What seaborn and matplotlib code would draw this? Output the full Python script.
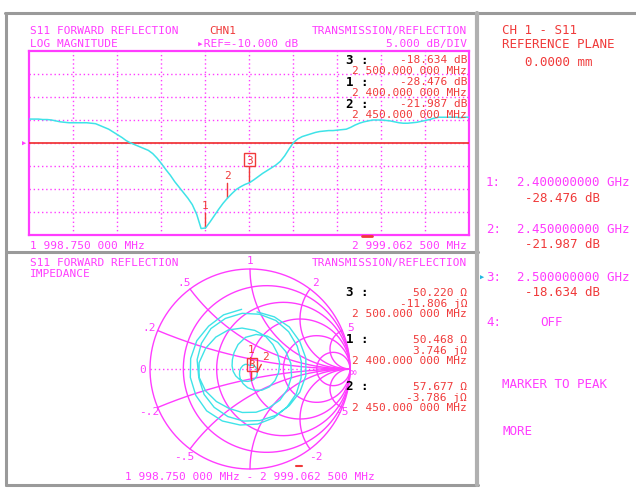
import numpy as np
import pandas as pd
import matplotlib
matplotlib.use("Agg")
import matplotlib.pyplot as plt
import seaborn as sns
from matplotlib.lines import Line2D

# ---------------- data ----------------
freq_mhz = [1998.75, 2010, 2020, 2030, 2040, 2050, 2060, 2070, 2080, 2090,
            2100, 2110, 2120, 2130, 2140, 2150, 2160, 2170, 2180, 2190,
            2200, 2210, 2220, 2230, 2240, 2250, 2260, 2270, 2280, 2290,
            2300, 2310, 2320, 2330, 2340, 2350, 2360, 2370, 2380, 2390,
            2400, 2410, 2420, 2430, 2440, 2450, 2460, 2470, 2480, 2490,
            2500, 2510, 2520, 2530, 2540, 2550, 2560, 2570, 2580, 2590,
            2600, 2610, 2620, 2630, 2640, 2650, 2660, 2670, 2680, 2690,
            2700, 2710, 2720, 2730, 2740, 2750, 2760, 2770, 2780, 2790,
            2800, 2810, 2820, 2830, 2840, 2850, 2860, 2870, 2880, 2890,
            2900, 2910, 2920, 2930, 2940, 2950, 2960, 2970, 2980, 2990,
            2999.0625]
s11_db = [-4.8, -4.8, -4.8, -4.9, -4.9, -5.0, -5.2, -5.4, -5.5, -5.6,
          -5.6, -5.6, -5.6, -5.6, -5.7, -5.8, -6.2, -6.6, -7.0, -7.6,
          -8.2, -8.8, -9.5, -10.0, -10.4, -10.8, -11.2, -11.6, -12.3, -13.3,
          -14.5, -15.8, -17.0, -18.4, -19.6, -20.8, -22.0, -23.4, -25.5, -28.6,
          -28.476, -27.2, -25.8, -24.4, -23.1, -21.987, -21.0, -20.1, -19.5, -19.0,
          -18.634, -18.0, -17.3, -16.6, -16.0, -15.4, -14.8, -14.0, -12.8, -11.3,
          -9.9, -9.1, -8.6, -8.3, -8.0, -7.7, -7.5, -7.4, -7.3, -7.3,
          -7.2, -7.1, -7.0, -6.6, -6.1, -5.7, -5.4, -5.2, -5.0, -5.0,
          -5.0, -5.1, -5.2, -5.4, -5.6, -5.7, -5.7, -5.6, -5.5, -5.3,
          -5.1, -4.9, -4.6, -4.4, -4.4, -4.4, -4.4, -4.4, -4.5, -4.4,
          -4.4]
s11_phase_deg = [803, 785, 767, 749, 731, 713, 695, 677, 659, 641,
                 623, 605, 587, 569, 551, 533, 515, 497, 479, 461,
                 443, 425, 407, 389, 371, 353, 335, 317, 299, 281,
                 263, 245, 227, 209, 191, 173, 155, 137, 119, 101,
                 83, 61, 40, 19, -3, -24, -36, -47, -59, -70,
                 -82, -100, -118, -136, -154, -172, -190, -208, -226, -244,
                 -262, -280, -298, -316, -334, -352, -370, -388, -406, -424,
                 -442, -460, -478, -496, -514, -532, -550, -568, -586, -604,
                 -622, -640, -658, -676, -694, -712, -730, -748, -766, -784,
                 -802, -820, -838, -856, -874, -892, -910, -928, -946, -964,
                 -982]

marker_ids = ["1", "2", "3"]
marker_freq = [2400, 2450, 2500]
marker_db = [-28.476, -21.987, -18.634]
marker_r_ohm = [50.468, 57.677, 50.220]
marker_x_ohm = [3.746, -3.786, -11.806]
marker_freq_text = ["2 400.000 000 MHz", "2 450.000 000 MHz", "2 500.000 000 MHz"]

start_mhz, stop_mhz = 1998.75, 2999.0625
ref_db, db_per_div = -10.0, 5.0

smith_r = [0, 0.2, 0.5, 1, 2, 5]
smith_x = [0.2, 0.5, 1, 2, 5, -0.2, -0.5, -1, -2, -5]
smith_x_labels = [".2", ".5", "1", "2", "5", "-.2", "-.5", "", "-2", "-5"]

# ---------------- style ----------------
W, H = 636, 489
MAG = "#ff3cff"
CYAN = "#3fe3e8"
RED = "#f03a3a"
GRAY = "#9a9a9a"
FONT = "DejaVu Sans Mono"

sns.set_theme(style="white")
plt.rcParams["font.family"] = [FONT, "DejaVu Sans"]

fig = plt.figure(figsize=(W / 100, H / 100), dpi=100)
fig.patch.set_facecolor("white")


def fx(x):
    return x / W


def fy(y):
    return 1 - y / H


def T(x, y, s, color, ha="left", size=8, weight="normal"):
    fig.text(fx(x), fy(y), s, color=color, ha=ha, va="center",
             fontsize=size, family=FONT, weight=weight)


def L(xs, ys, color=GRAY, lw=2.2):
    fig.add_artist(Line2D([fx(v) for v in xs], [fy(v) for v in ys],
                          color=color, lw=lw, transform=fig.transFigure))


# frame
L([5, 636], [14, 14])
L([6, 6], [14, 486])
L([6, 478], [486, 486])
L([6, 478], [253, 253])
L([477, 477], [14, 486], color="#b0b0b0", lw=3)

# ---------------- top: log magnitude ----------------
ax1 = fig.add_axes([fx(29), fy(236), (469 - 29) / W, (236 - 52) / H])
df = pd.DataFrame({"freq": freq_mhz, "db": s11_db})
top_db = ref_db + 4 * db_per_div
bot_db = ref_db - 4 * db_per_div
ax1.set_xlim(start_mhz, stop_mhz)
ax1.set_ylim(bot_db, top_db)
span = stop_mhz - start_mhz
ax1.set_xticks([start_mhz + span * k / 10 for k in range(1, 10)])
ax1.set_yticks([bot_db + db_per_div * k for k in range(1, 8)])
ax1.grid(True, color=MAG, linestyle=(0, (1, 2)), lw=1.0)
ax1.tick_params(left=False, bottom=False, labelleft=False, labelbottom=False)
for sp in ax1.spines.values():
    sp.set_color(MAG)
    sp.set_linewidth(1.6)
ax1.axhline(ref_db, color=RED, lw=1.3, zorder=3)
sns.lineplot(data=df, x="freq", y="db", ax=ax1, color=CYAN, lw=1.1,
             estimator=None, sort=False, zorder=4)
ax1.set_xlabel("")
ax1.set_ylabel("")
for mid, f, d in zip(marker_ids, marker_freq, marker_db):
    box = dict(boxstyle="square,pad=0.15", fc="none", ec=RED, lw=1) if mid == "3" else None
    ax1.annotate(mid, xy=(f, d), xytext=(0, 13), textcoords="offset points",
                 ha="center", va="bottom", color=RED, fontsize=8, family=FONT,
                 bbox=box,
                 arrowprops=dict(arrowstyle="-", color=RED, lw=1,
                                 shrinkA=0, shrinkB=0))

# top texts
T(30, 31, "S11 FORWARD REFLECTION", MAG)
T(30, 44, "LOG MAGNITUDE", MAG)
T(209, 31, "CHN1", RED)
T(197, 44, "\u25b8REF=-10.000 dB", MAG)
T(467, 31, "TRANSMISSION/REFLECTION", MAG, ha="right")
T(467, 44, "5.000 dB/DIV", MAG, ha="right")
order = [2, 0, 1]
for row, k in enumerate(order):
    y0 = 60 + row * 22
    T(346, y0, marker_ids[k] + " :", "black", size=9, weight="bold")
    T(467, y0, f"{marker_db[k]:.3f} dB", RED, ha="right")
    T(467, y0 + 11, marker_freq_text[k], RED, ha="right")
T(30, 246, "1 998.750 000 MHz", MAG)
T(467, 246, "2 999.062 500 MHz", MAG, ha="right")
T(24, 144, "\u25b6", MAG, ha="center", size=5)
L([362, 372], [237, 237], color=RED, lw=2)

# ---------------- bottom: smith chart ----------------
ax2 = fig.add_axes([fx(140), fy(480), 220 / W, 220 / H])
ax2.set_xlim(-1.1, 1.1)
ax2.set_ylim(-1.1, 1.1)
ax2.set_aspect("equal")
ax2.axis("off")
t = np.linspace(0, 2 * np.pi, 500)
for r in smith_r:
    c, rad = r / (1 + r), 1 / (1 + r)
    ax2.plot(c + rad * np.cos(t), rad * np.sin(t), color=MAG, lw=1.0)
rr = np.concatenate([[0.0], np.logspace(-3, 4, 600)])
for xv, lab in zip(smith_x, smith_x_labels):
    z = rr + 1j * xv
    g = (z - 1) / (z + 1)
    ax2.plot(g.real, g.imag, color=MAG, lw=1.0)
    if lab:
        gb = g[0] * (1.09 if lab != "-5" else 1.05)
        dxl = -0.05 if lab == "-5" else 0.0
        ax2.text(gb.real + dxl, gb.imag - (0.02 if lab == "-5" else 0), lab,
                 color=MAG, ha="center", va="center", fontsize=8, family=FONT)
ax2.plot([-1, 1], [0, 0], color=MAG, lw=1.0, linestyle=(0, (1, 2)))
ax2.text(-1.07, 0, "0", color=MAG, ha="center", va="center", fontsize=8, family=FONT)
ax2.text(1.03, -0.035, "\u221e", color=MAG, ha="center", va="center", fontsize=8, family=FONT)

mag = 10 ** (np.array(s11_db) / 20)
ph = np.deg2rad(np.array(s11_phase_deg))
gam = mag * np.exp(1j * ph)
sdf = pd.DataFrame({"re": gam.real, "im": gam.imag})
sns.lineplot(data=sdf, x="re", y="im", ax=ax2, color=CYAN, lw=1.0,
             estimator=None, sort=False)
ax2.set_xlabel("")
ax2.set_ylabel("")
for mid, rv, xv in zip(marker_ids, marker_r_ohm, marker_x_ohm):
    z = (rv + 1j * xv) / 50.0
    g = (z - 1) / (z + 1)
    box = dict(boxstyle="square,pad=0.15", fc="none", ec=RED, lw=1) if mid == "3" else None
    dx = 6 if mid == "2" else 0
    ax2.annotate(mid, xy=(g.real, g.imag), xytext=(dx, 8), textcoords="offset points",
                 ha="center", va="bottom", color=RED, fontsize=8, family=FONT,
                 bbox=box, arrowprops=dict(arrowstyle="-", color=RED, lw=1,
                                           shrinkA=0, shrinkB=0))

T(30, 263, "S11 FORWARD REFLECTION", MAG)
T(30, 274, "IMPEDANCE", MAG)
T(467, 263, "TRANSMISSION/REFLECTION", MAG, ha="right")
for row, k in enumerate(order):
    y0 = 293 + row * 47
    T(346, y0, marker_ids[k] + " :", "black", size=9, weight="bold")
    T(467, y0, f"{marker_r_ohm[k]:.3f} \u03a9", RED, ha="right")
    T(467, y0 + 11, f"{marker_x_ohm[k]:.3f} j\u03a9", RED, ha="right")
    T(467, y0 + 21, marker_freq_text[k], RED, ha="right")
T(250, 477, "1 998.750 000 MHz - 2 999.062 500 MHz", MAG, ha="center")
L([296, 302], [467, 467], color=RED, lw=1.5)

# ---------------- right panel ----------------
T(502, 31, "CH 1 - S11", RED, size=9)
T(502, 45, "REFERENCE PLANE", RED, size=9)
T(559, 62, "0.0000 mm", RED, ha="center", size=9)
rows_y = [183, 230, 278]
for k, y0 in enumerate(rows_y):
    T(486, y0, f"{marker_ids[k]}:", MAG, size=9)
    T(517, y0, f"{marker_freq[k] / 1000:.9f} GHz", MAG, size=9)
    T(525, y0 + 15, f"{marker_db[k]:.3f} dB", RED, size=9)
T(480, 278, "\u25b6", "#20b8e0", size=5)
T(486, 323, "4:", MAG, size=9)
T(540, 323, "OFF", MAG, size=9)
T(502, 385, "MARKER TO PEAK", MAG, size=9)
T(502, 432, "MORE", MAG, size=9)

fig.savefig("out.png", dpi=100, facecolor="white")
